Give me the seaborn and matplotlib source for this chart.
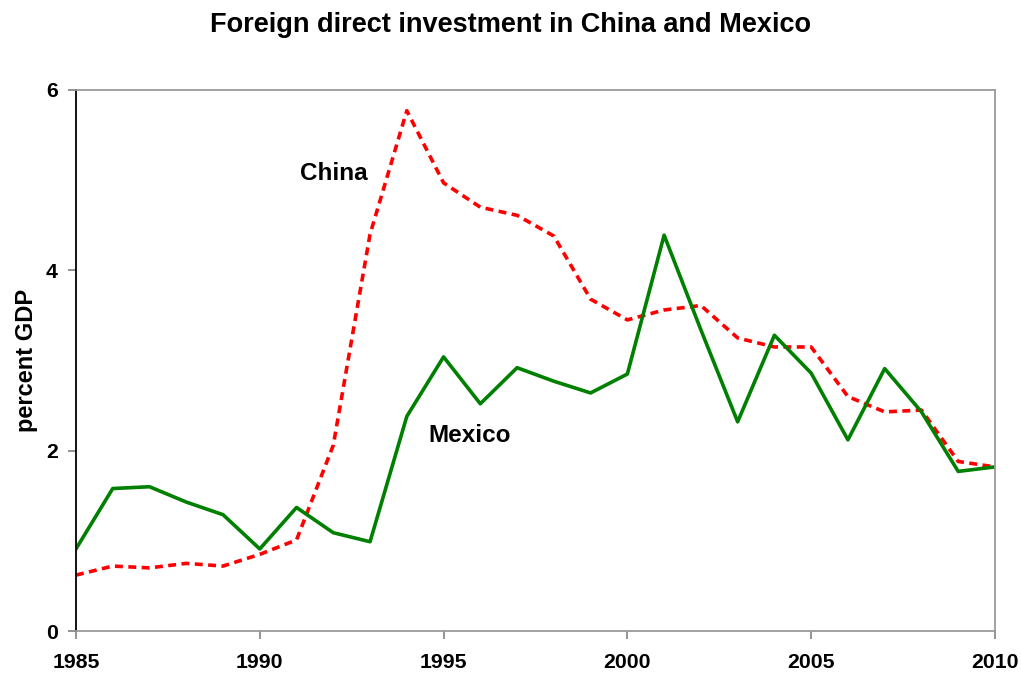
import matplotlib
matplotlib.use("Agg")
import matplotlib.pyplot as plt
import seaborn as sns
import pandas as pd

# years on the x axis
years = list(range(1985, 2011))

# FDI inflows, percent of GDP
china = [0.62, 0.72, 0.70, 0.75, 0.72, 0.85, 1.01, 2.06, 4.40, 5.77,
         4.97, 4.70, 4.61, 4.38, 3.68, 3.45, 3.56, 3.61, 3.25, 3.15,
         3.15, 2.60, 2.43, 2.45, 1.88, 1.82]
mexico = [0.91, 1.58, 1.60, 1.43, 1.29, 0.91, 1.37, 1.09, 0.99, 2.38,
          3.04, 2.52, 2.92, 2.77, 2.64, 2.85, 4.39, 3.34, 2.32, 3.28,
          2.86, 2.12, 2.91, 2.43, 1.77, 1.82]

df = pd.DataFrame({"year": years, "China": china, "Mexico": mexico})

sns.set_style("white")
plt.rcParams["font.family"] = ["Liberation Sans", "DejaVu Sans"]
plt.rcParams["text.color"] = "black"
plt.rcParams["axes.labelcolor"] = "black"

fig = plt.figure(figsize=(10.21, 6.73), dpi=100)
ax = fig.add_axes([0.0744, 0.0624, 0.9001, 0.8039])

sns.lineplot(data=df, x="year", y="China", ax=ax, color="#ff0000",
             linewidth=2.6, linestyle=(0, (2.2, 1.5)))
sns.lineplot(data=df, x="year", y="Mexico", ax=ax, color="#008000",
             linewidth=2.6)

ax.set_xlim(1985, 2010)
ax.set_ylim(0, 6)
ax.set_xticks([1985, 1990, 1995, 2000, 2005, 2010])
ax.set_yticks([0, 2, 4, 6])
ax.tick_params(axis="both", labelsize=15.3, length=6, width=1.2,
               direction="out", colors="#808080", labelcolor="black",
               bottom=True, left=True)
ax.tick_params(axis="x", pad=10)
ax.tick_params(axis="y", pad=7)
for lab in ax.get_xticklabels() + ax.get_yticklabels():
    lab.set_fontweight("bold")

ax.set_xlabel("")
ax.set_ylabel("percent GDP", fontsize=17, fontweight="bold", labelpad=6)

for side in ["top", "right", "bottom"]:
    ax.spines[side].set_color("#9a9a9a")
    ax.spines[side].set_linewidth(1.3)
ax.spines["left"].set_color("black")
ax.spines["left"].set_linewidth(1.3)

ax.text(1991.1, 5.0, "China", fontsize=17.5, fontweight="bold")
ax.text(1994.6, 2.1, "Mexico", fontsize=17.5, fontweight="bold")

fig.suptitle("Foreign direct investment in China and Mexico",
             fontsize=19.5, fontweight="bold", y=0.982)

fig.savefig("out.png", dpi=100)
